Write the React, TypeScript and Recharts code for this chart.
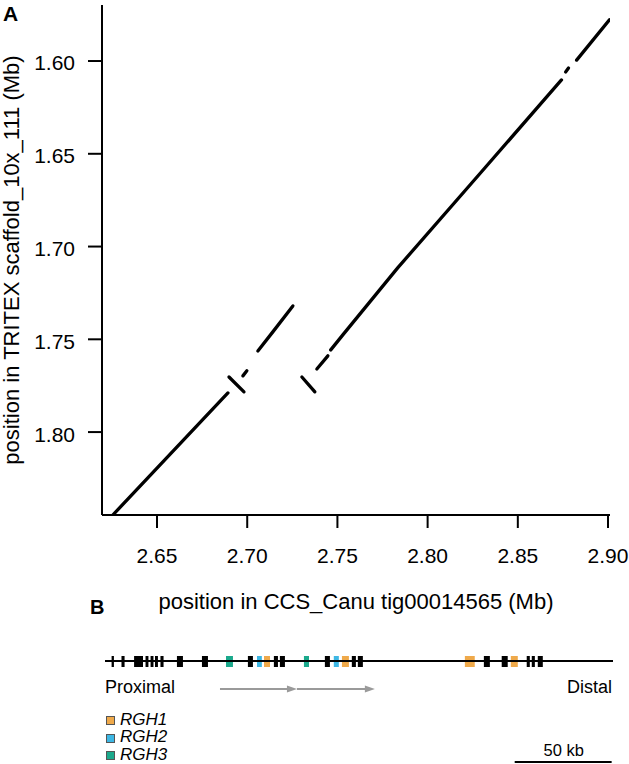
import React from 'react';
import { ComposedChart, Line, XAxis, YAxis, ReferenceArea, ReferenceLine } from 'recharts';

const FONT = '"Liberation Sans", Arial, Helvetica, sans-serif';

// ---------- Panel A data (Mb) ----------
const xTicks = [2.65, 2.7, 2.75, 2.8, 2.85, 2.9];
const yTicks = [1.6, 1.65, 1.7, 1.75, 1.8];

const segMainLow = [
  { x: 2.6256, y: 1.8446 },
  { x: 2.6893, y: 1.7789 },
];
const segInv1 = [
  { x: 2.6899, y: 1.7703 },
  { x: 2.6982, y: 1.7783 },
];
const segSmall1 = [
  { x: 2.6976, y: 1.7697 },
  { x: 2.6998, y: 1.767 },
];
const segMid = [
  { x: 2.7059, y: 1.7563 },
  { x: 2.7142, y: 1.746 },
  { x: 2.7253, y: 1.732 },
];
const segInv2 = [
  { x: 2.7303, y: 1.7703 },
  { x: 2.7375, y: 1.7783 },
];
const segUpA = [
  { x: 2.7386, y: 1.766 },
  { x: 2.7447, y: 1.7589 },
];
const segUpB = [
  { x: 2.7463, y: 1.7557 },
  { x: 2.753, y: 1.7476 },
  { x: 2.7834, y: 1.7115 },
  { x: 2.8288, y: 1.6609 },
  { x: 2.8742, y: 1.6102 },
];
const segDot = [
  { x: 2.8765, y: 1.6059 },
  { x: 2.8781, y: 1.6038 },
];
const segTop = [
  { x: 2.8826, y: 1.5995 },
  { x: 2.9008, y: 1.5778 },
];
const segments = [segMainLow, segInv1, segSmall1, segMid, segInv2, segUpA, segUpB, segDot, segTop];

// ---------- Panel B data (kb along contig) ----------
const contigLength = 262;
const geneStart = [3.4, 8.5, 15.0, 20.9, 23.5, 25.8, 28.6, 37.1, 50.0, 62.4, 73.7, 78.4, 82.0, 87.1, 90.2, 102.6, 113.4, 118.0, 122.2, 127.3, 130.4, 185.6, 195.4, 204.6, 209.3, 217.5, 220.1, 223.2];
const geneEnd = [4.6, 10.1, 19.6, 22.4, 25.0, 27.3, 30.2, 40.2, 53.1, 66.0, 76.3, 80.9, 85.1, 89.2, 92.8, 105.2, 116.0, 120.6, 125.8, 129.4, 133.0, 190.7, 198.5, 207.7, 212.9, 219.1, 221.7, 225.8];
const geneType = ['other', 'other', 'other', 'other', 'other', 'other', 'other', 'other', 'other', 'RGH3', 'other', 'RGH2', 'RGH1', 'other', 'other', 'RGH3', 'other', 'RGH2', 'RGH1', 'other', 'other', 'RGH1', 'other', 'other', 'RGH1', 'other', 'other', 'other'];
const geneColors: Record<string, string> = { RGH1: '#EFA94A', RGH2: '#3DB7E4', RGH3: '#1BA98C', other: '#000000' };
const arrowStart = [59.3, 99.0];
const arrowEnd = [99.0, 139.2];
const scaleBarStart = 211.3;
const scaleBarKb = 50;
const legendItems = ['RGH1', 'RGH2', 'RGH3'];

const backbone = [
  { x: 0, y: 41 },
  { x: contigLength, y: 41 },
];

const renderYTitle = () => (
  <g>
    <text
      x={18.5}
      y={260}
      transform="rotate(-90 18.5 260)"
      textAnchor="middle"
      fontSize={22}
      fontFamily={FONT}
      fill="#000"
    >
      position in TRITEX scaffold_10x_111 (Mb)
    </text>
    <text x={3} y={20.5} fontSize={21} fontWeight="bold" fontFamily={FONT} fill="#000">
      A
    </text>
  </g>
);

const renderXTitle = () => (
  <g>
    <text x={356} y={609} textAnchor="middle" fontSize={22} fontFamily={FONT} fill="#000">
      position in CCS_Canu tig00014565 (Mb)
    </text>
    <text x={90} y={613.5} fontSize={20} fontWeight="bold" fontFamily={FONT} fill="#000">
      B
    </text>
  </g>
);

const ArrowShape = (p: any) => {
  const { x1, y1, x2, y2 } = p;
  const head = 10;
  return (
    <g>
      <line x1={x1} y1={y1} x2={x2 - head + 1} y2={y2} stroke="#9a9a9a" strokeWidth={2} />
      <polygon points={`${x2},${y2} ${x2 - head},${y2 - 3.5} ${x2 - head},${y2 + 3.5}`} fill="#9a9a9a" />
    </g>
  );
};

const backboneLabel = (props: any) => {
  const vb = props.viewBox || {};
  const x = vb.x ?? 105;
  const w = vb.width ?? 508;
  const y = vb.y ?? 41;
  return (
    <g>
      <text x={x} y={y + 32} fontSize={18} fontFamily={FONT} fill="#000">
        Proximal
      </text>
      <text x={x + w - 1} y={y + 32} textAnchor="end" fontSize={18} fontFamily={FONT} fill="#000">
        Distal
      </text>
    </g>
  );
};

const scaleLabel = (props: any) => {
  const vb = props.viewBox || {};
  const x = vb.x ?? 515;
  const w = vb.width ?? 97;
  const y = vb.y ?? 142;
  return (
    <text x={x + w / 2 + 0.5} y={y - 6} textAnchor="middle" fontSize={16.5} fontFamily={FONT} fill="#000">
      50 kb
    </text>
  );
};

export default function App() {
  return (
    <div style={{ position: 'absolute', left: 0, top: 0, width: 629, height: 764, background: '#fff' }}>
      <ComposedChart width={629} height={620} margin={{ top: 5, right: 19, bottom: 15, left: 0 }}>
        <XAxis
          type="number"
          dataKey="x"
          domain={[2.6195, 2.9011]}
          allowDataOverflow
          ticks={xTicks}
          interval={0}
          tickFormatter={(v: number) => v.toFixed(2)}
          height={90}
          tickSize={13}
          tickMargin={20}
          axisLine={{ stroke: '#000', strokeWidth: 2 }}
          tickLine={{ stroke: '#000', strokeWidth: 2 }}
          tick={{ fontSize: 21, fill: '#000', fontFamily: FONT }}
          label={renderXTitle}
        />
        <YAxis
          type="number"
          dataKey="y"
          domain={[1.5698, 1.8447]}
          reversed
          allowDataOverflow
          ticks={yTicks}
          interval={0}
          tickFormatter={(v: number) => v.toFixed(2)}
          width={102}
          tickSize={14}
          tickMargin={13}
          axisLine={{ stroke: '#000', strokeWidth: 2 }}
          tickLine={{ stroke: '#000', strokeWidth: 2 }}
          tick={{ fontSize: 21, fill: '#000', fontFamily: FONT, dy: 2 }}
          label={renderYTitle}
        />
        {segments.map((seg, i) => (
          <Line
            key={i}
            data={seg}
            dataKey="y"
            type="linear"
            stroke="#000"
            strokeWidth={3.3}
            strokeLinecap="round"
            dot={false}
            activeDot={false}
            isAnimationActive={false}
          />
        ))}
      </ComposedChart>

      <div style={{ position: 'absolute', left: 0, top: 620 }}>
        <ComposedChart width={629} height={144} data={backbone} margin={{ top: 0, right: 16, bottom: 0, left: 105 }}>
          <XAxis type="number" dataKey="x" domain={[0, contigLength]} hide allowDataOverflow />
          <YAxis type="number" domain={[0, 144]} reversed hide allowDataOverflow />
          <Line dataKey="y" type="linear" stroke="#000" strokeWidth={2} dot={false} activeDot={false} isAnimationActive={false} />
          <ReferenceLine
            segment={[
              { x: 0, y: 41 },
              { x: contigLength, y: 41 },
            ]}
            stroke="none"
            ifOverflow="visible"
            label={backboneLabel}
          />
          {geneStart.map((s, i) => (
            <ReferenceArea
              key={i}
              x1={s}
              x2={geneEnd[i]}
              y1={36}
              y2={47}
              fill={geneColors[geneType[i]]}
              fillOpacity={1}
              stroke="none"
              ifOverflow="visible"
            />
          ))}
          {arrowStart.map((s, i) => (
            <ReferenceLine
              key={'a' + i}
              segment={[
                { x: s, y: 69 },
                { x: arrowEnd[i], y: 69 },
              ]}
              ifOverflow="visible"
              shape={ArrowShape}
            />
          ))}
          <ReferenceLine
            segment={[
              { x: scaleBarStart, y: 142 },
              { x: scaleBarStart + scaleBarKb, y: 142 },
            ]}
            stroke="#000"
            strokeWidth={2}
            ifOverflow="visible"
            label={scaleLabel}
          />
        </ComposedChart>
      </div>

      {legendItems.map((name, i) => (
        <div key={name}>
          <div
            style={{
              position: 'absolute',
              left: 106,
              top: 716 + i * 17.5,
              width: 7,
              height: 7,
              background: geneColors[name],
              border: '1px solid #555',
            }}
          />
          <div
            style={{
              position: 'absolute',
              left: 120,
              top: 711.5 + i * 17.8,
              fontSize: 17,
              lineHeight: '16px',
              fontStyle: 'italic',
              fontFamily: FONT,
              color: '#000',
              whiteSpace: 'nowrap',
            }}
          >
            {name}
          </div>
        </div>
      ))}
    </div>
  );
}
